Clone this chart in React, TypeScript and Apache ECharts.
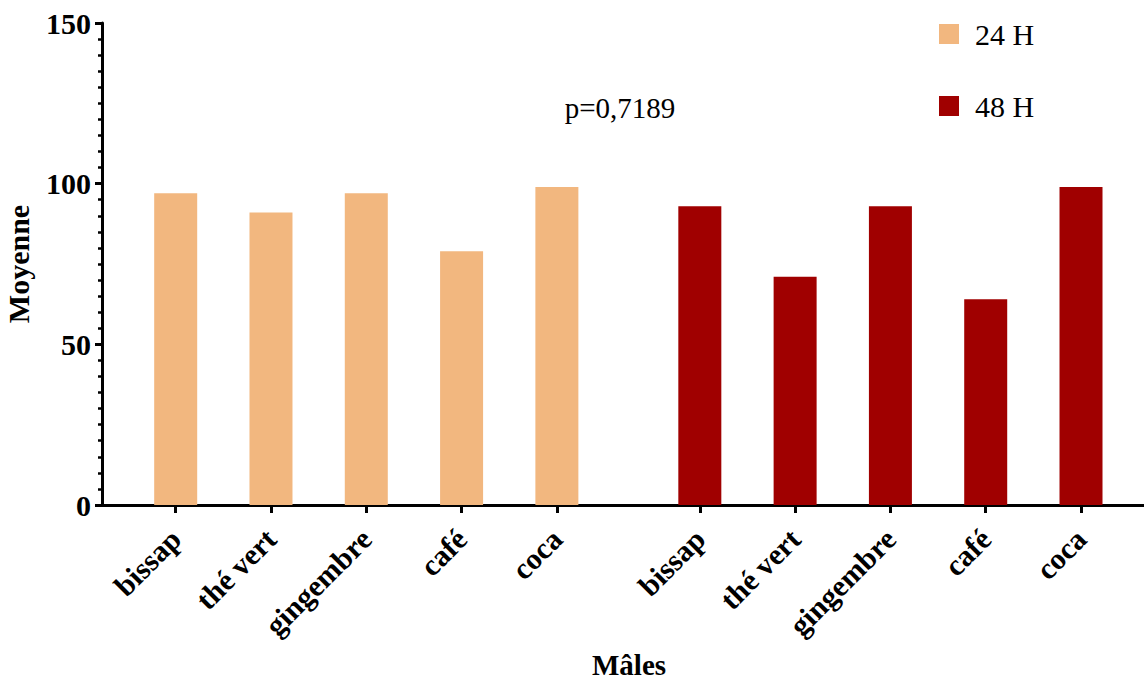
import React, { useEffect, useRef } from "react";
import * as echarts from "echarts";

const categories = ["bissap", "thé vert", "gingembre", "café", "coca"];
const seriesNames = ["24 H", "48 H"];
const values24 = [97, 91, 97, 79, 99];
const values48 = [93, 71, 93, 64, 99];
const yTicks = [0, 50, 100, 150];
const pValueText = "p=0,7189";

const groupGap = 0.5; // extra slot between the two groups
const colors = ["#F2B77F", "#A00000"];
const FONT = "'Liberation Serif', 'Times New Roman', serif";

export default function App() {
  const ref = useRef<HTMLDivElement>(null);
  useEffect(() => {
    document.body.style.margin = "0";
    if (!ref.current) return;
    const chart = echarts.init(ref.current, undefined, { renderer: "svg" });
    const groups = [values24, values48];
    const positions: number[] = [];
    const labels: string[] = [];
    groups.forEach((vals, g) => {
      vals.forEach((_, i) => {
        positions.push(g * (categories.length + groupGap) + i);
        labels.push(categories[i]);
      });
    });
    const labelFor = (v: number) => {
      const idx = positions.findIndex((p) => Math.abs(p - v) < 1e-6);
      return idx >= 0 ? labels[idx] : "";
    };
    const series = groups.map((vals, g) => ({
      name: seriesNames[g],
      type: "bar",
      barWidth: 43,
      barGap: "-100%",
      itemStyle: { color: colors[g] },
      data: vals.map((v, i) => [g * (categories.length + groupGap) + i, v]),
    }));
    const legendBase = {
      left: 934,
      itemWidth: 20,
      itemHeight: 20,
      icon: "rect",
      textStyle: {
        fontFamily: FONT,
        fontSize: 30,
        color: "#000",
        lineHeight: 28,
        padding: [0, 0, 0, 11],
      },
    };
    chart.setOption({
      animation: false,
      textStyle: { fontFamily: FONT },
      grid: {
        left: 102,
        right: 0,
        top: 23,
        bottom: 174,
        containLabel: false,
        outerBoundsMode: "none",
      },
      legend: [
        { ...legendBase, top: 14, data: [seriesNames[0]] },
        { ...legendBase, top: 86, data: [seriesNames[1]] },
      ],
      graphic: [
        {
          type: "text",
          x: 620,
          y: 108,
          style: {
            text: pValueText,
            fontFamily: FONT,
            fontSize: 29,
            fill: "#000",
            textAlign: "center",
            textVerticalAlign: "middle",
          },
        },
      ],
      xAxis: {
        type: "value",
        min: -0.7733,
        max: 10.161,
        name: "Mâles",
        nameLocation: "middle",
        nameGap: 145,
        nameTextStyle: {
          fontFamily: FONT,
          fontSize: 29,
          fontWeight: "bold",
          color: "#000",
          padding: [0, 0, 0, 12],
        },
        splitLine: { show: false },
        axisLine: { show: true, onZero: false, lineStyle: { color: "#000", width: 3 } },
        axisTick: {
          show: true,
          customValues: positions,
          length: 8,
          lineStyle: { color: "#000", width: 3 },
        },
        axisLabel: {
          show: true,
          customValues: positions,
          formatter: (v: number) => labelFor(v),
          rotate: 45,
          margin: 29,
          fontFamily: FONT,
          fontSize: 30,
          fontWeight: "bold",
          color: "#000",
        },
      },
      yAxis: {
        type: "value",
        min: yTicks[0],
        max: yTicks[yTicks.length - 1],
        interval: yTicks[1] - yTicks[0],
        name: "Moyenne",
        nameLocation: "middle",
        nameGap: 69,
        nameTextStyle: {
          fontFamily: FONT,
          fontSize: 30,
          fontWeight: "bold",
          color: "#000",
        },
        splitLine: { show: false },
        axisLine: { show: true, onZero: false, lineStyle: { color: "#000", width: 3 } },
        axisTick: { show: true, length: 7, lineStyle: { color: "#000", width: 3 } },
        minorTick: {
          show: true,
          splitNumber: 10,
          length: 4,
          lineStyle: { color: "#000", width: 2.5 },
        },
        axisLabel: {
          margin: 11,
          fontFamily: FONT,
          fontSize: 30,
          fontWeight: "bold",
          color: "#000",
        },
      },
      series,
    });
    return () => chart.dispose();
  }, []);
  return <div ref={ref} style={{ width: 1144, height: 679 }} />;
}
